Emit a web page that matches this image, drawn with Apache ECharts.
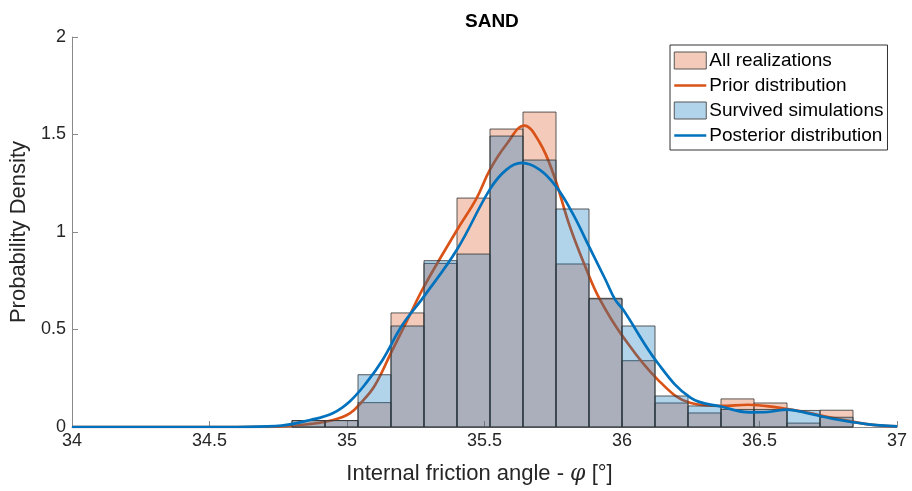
<!DOCTYPE html>
<html>
<head>
<meta charset="utf-8">
<script src="https://cdn.jsdelivr.net/npm/echarts@6/dist/echarts.min.js"></script>
<style>
html,body{margin:0;padding:0;background:#fff;}
#chart{width:912px;height:491px;}
</style>
</head>
<body>
<div id="chart"></div>
<script>
// Histogram bin edges (shared by both histograms)
const binEdges = [34.80,34.92,35.04,35.16,35.28,35.40,35.52,35.64,35.76,35.88,36.00,36.12,36.24,36.36,36.48,36.60,36.72,36.84];
// Bin densities
const allRealizations = [0.033,0.033,0.125,0.585,0.839,1.174,1.528,1.615,0.836,0.660,0.340,0.123,0.072,0.144,0.123,0.020,0.086];
const survivedSimulations = [0.033,0.033,0.268,0.518,0.853,0.887,1.492,1.369,1.118,0.657,0.518,0.159,0.108,0.090,0.090,0.085,0.050];

// Kernel density curves [x, density]
const priorX = [34.0,34.6,34.75,34.87,34.95,35.01,35.05,35.10,35.16,35.22,35.28,35.40,35.47,35.52,35.58,35.645,35.70,35.75,35.81,35.87,35.92,36.00,36.13,36.25,36.36,36.46,36.55,36.65,36.77,36.89,37.0];
const priorY = [0,0,0.002,0.016,0.036,0.070,0.123,0.210,0.380,0.550,0.720,1.010,1.170,1.320,1.450,1.546,1.460,1.300,1.030,0.810,0.653,0.470,0.243,0.123,0.108,0.114,0.103,0.080,0.046,0.015,0.003];
const posteriorX = [34.0,34.6,34.74,34.87,34.95,35.01,35.07,35.13,35.20,35.28,35.40,35.52,35.58,35.635,35.70,35.76,35.82,35.88,35.94,35.975,36.005,36.13,36.25,36.36,36.465,36.53,36.60,36.67,36.77,36.89,37.0];
const posteriorY = [0,0,0.004,0.037,0.072,0.131,0.226,0.345,0.520,0.670,0.910,1.220,1.320,1.354,1.320,1.234,1.097,0.926,0.755,0.653,0.600,0.328,0.149,0.105,0.075,0.077,0.089,0.072,0.041,0.015,0.003];

const xTicks = [34,34.5,35,35.5,36,36.5,37];
const yTicks = [0,0.5,1,1.5,2];

function binData(vals){
  return vals.map((v,i)=>[binEdges[i], binEdges[i+1], v]);
}
function zip(xs, ys){ return xs.map((x,i)=>[x, ys[i]]); }

const ORANGE = '#D95319';
const BLUE = '#0072BD';
const ORANGE_FILL = 'rgba(217,83,25,0.3)';
const BLUE_FILL = 'rgba(0,114,189,0.3)';
const EDGE = 'rgba(50,50,50,0.8)';
const FONT = 'Liberation Sans';

function rectRender(params, api){
  const p0 = api.coord([api.value(0), api.value(2)]);
  const p1 = api.coord([api.value(1), 0]);
  return {
    type: 'rect',
    shape: {x: p0[0], y: p0[1], width: p1[0]-p0[0], height: p1[1]-p0[1]},
    style: {fill: api.visual('color'), stroke: EDGE, lineWidth: 1}
  };
}

const chart = echarts.init(document.getElementById('chart'), null, {renderer:'canvas'});
chart.setOption({
  animation: false,
  backgroundColor: '#fff',
  title: {
    text: 'SAND', left: 460, top: 7,
    textStyle: {fontFamily: FONT, fontSize: 19, fontWeight: 'bold', color: '#000'}
  },
  grid: {left: 72, right: 15, top: 37, bottom: 64, containLabel: false},
  legend: {
    orient: 'vertical', left: 670, top: 45,
    padding: [6, 4, 5, 3], itemGap: 6, itemWidth: 32, itemHeight: 17,
    backgroundColor: '#fff', borderColor: '#333', borderWidth: 1,
    textStyle: {fontFamily: FONT, fontSize: 19, color: '#000', padding: [0,0,0,-2]},
    data: [
      {name: 'All realizations', icon: 'rect', itemStyle: {color: ORANGE_FILL, borderColor: '#555', borderWidth: 1}},
      {name: 'Prior distribution', itemStyle: {opacity: 0}, lineStyle: {width: 2.5, color: ORANGE}},
      {name: 'Survived simulations', icon: 'rect', itemStyle: {color: BLUE_FILL, borderColor: '#555', borderWidth: 1}},
      {name: 'Posterior distribution', itemStyle: {opacity: 0}, lineStyle: {width: 2.5, color: BLUE}}
    ]
  },
  xAxis: {
    type: 'value', min: 34, max: 37, interval: 0.5,
    name: '{a|Internal friction angle - }{b|φ}{a| [°]}',
    nameLocation: 'middle', nameGap: 36,
    nameTextStyle: {
      padding: [0, 10, 0, 0],
      rich: {
        a: {fontFamily: FONT, fontSize: 22, color: '#262626'},
        b: {fontFamily: 'DejaVu Serif', fontSize: 22, fontStyle: 'italic', color: '#262626'}
      }
    },
    axisLine: {show: true, onZero: false, lineStyle: {color: '#8a8a8a', width: 1}},
    axisTick: {show: true, inside: true, length: 6, lineStyle: {color: '#8a8a8a'}},
    axisLabel: {fontFamily: FONT, fontSize: 18, color: '#262626', margin: 5,
      formatter: v => xTicks.indexOf(v) >= 0 ? String(v) : ''},
    splitLine: {show: false}
  },
  yAxis: {
    type: 'value', min: 0, max: 2, interval: 0.5,
    name: 'Probability Density', nameLocation: 'middle', nameGap: 35,
    nameTextStyle: {fontFamily: FONT, fontSize: 22, color: '#262626'},
    axisLine: {show: true, lineStyle: {color: '#8a8a8a', width: 1}},
    axisTick: {show: true, inside: true, length: 6, lineStyle: {color: '#8a8a8a'}},
    axisLabel: {fontFamily: FONT, fontSize: 18, color: '#262626', margin: 6,
      formatter: v => yTicks.indexOf(v) >= 0 ? String(v) : ''},
    splitLine: {show: false}
  },
  series: [
    {
      name: 'All realizations', type: 'custom', z: 2,
      renderItem: rectRender, itemStyle: {color: ORANGE_FILL},
      encode: {x: [0,1], y: 2}, data: binData(allRealizations)
    },
    {
      name: 'Prior distribution', type: 'line', z: 3, smooth: 0.4,
      showSymbol: false, symbol: 'none', itemStyle: {color: ORANGE},
      lineStyle: {color: ORANGE, width: 2.7}, data: zip(priorX, priorY)
    },
    {
      name: 'Survived simulations', type: 'custom', z: 4,
      renderItem: rectRender, itemStyle: {color: BLUE_FILL},
      encode: {x: [0,1], y: 2}, data: binData(survivedSimulations)
    },
    {
      name: 'Posterior distribution', type: 'line', z: 5, smooth: 0.4,
      showSymbol: false, symbol: 'none', itemStyle: {color: BLUE},
      lineStyle: {color: BLUE, width: 2.7}, data: zip(posteriorX, posteriorY)
    }
  ]
});
</script>
</body>
</html>
